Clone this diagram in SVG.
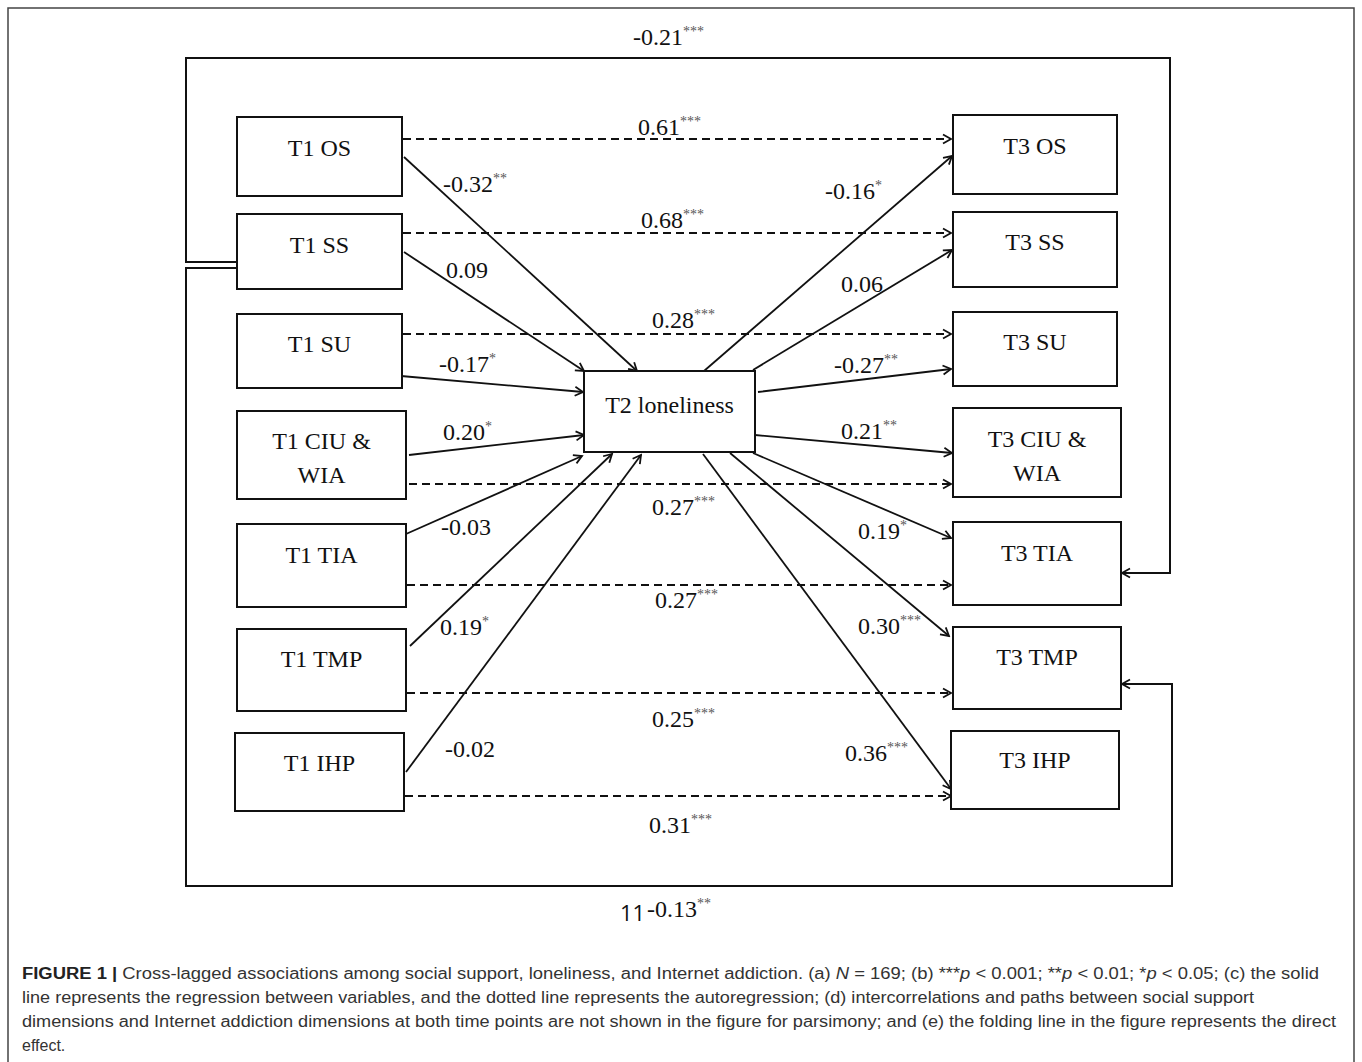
<svg xmlns="http://www.w3.org/2000/svg" width="1362" height="1062" viewBox="0 0 1362 1062">
<style>
.bg{fill:#fff}
.frame{fill:none;stroke:#444;stroke-width:1.5}
.box{fill:#fff;stroke:#111;stroke-width:2}
.bt{font-family:"Liberation Serif","Times New Roman",serif;font-size:24px;fill:#111;text-anchor:middle}
.lb{font-family:"Liberation Serif","Times New Roman",serif;font-size:24px;fill:#111}
.sup{font-size:14px;fill:#555}
.solid{fill:none;stroke:#111;stroke-width:1.8}
.dash{fill:none;stroke:#111;stroke-width:2.2;stroke-dasharray:8 5}
.fold{fill:none;stroke:#111;stroke-width:2}
.cap{font-family:"Liberation Sans",Arial,sans-serif;font-size:16px;fill:#333}
.capb{font-weight:bold;fill:#222}
.eleven{font-family:"Open Sans","DejaVu Sans",sans-serif;font-size:22px;fill:#111}
</style>
<defs>
<marker id="ah" viewBox="-10 -6 12 12" refX="0" refY="0" markerWidth="12" markerHeight="12" markerUnits="userSpaceOnUse" orient="auto">
<path d="M-8,-4.5 L0,0 L-8,4.5" fill="none" stroke="#111" stroke-width="1.8"/>
</marker>
</defs>
<rect class="bg" x="0" y="0" width="1362" height="1062"/>
<path class="frame" d="M8,1062 V8 H1354 V1062"/>

<g id="connectors">
<path class="fold" d="M236,262 H186 V58 H1170 V573 H1122" marker-end="url(#ah)"/>
<path class="fold" d="M236,268 H186 V886 H1172 V684 H1122" marker-end="url(#ah)"/>
<line class="dash" x1="403" y1="139" x2="951" y2="139" marker-end="url(#ah)"/>
<line class="dash" x1="403" y1="233" x2="951" y2="233" marker-end="url(#ah)"/>
<line class="dash" x1="403" y1="334" x2="951" y2="334" marker-end="url(#ah)"/>
<line class="dash" x1="409" y1="484" x2="951" y2="484" marker-end="url(#ah)"/>
<line class="dash" x1="407" y1="585" x2="951" y2="585" marker-end="url(#ah)"/>
<line class="dash" x1="407" y1="693" x2="951" y2="693" marker-end="url(#ah)"/>
<line class="dash" x1="405" y1="796" x2="951" y2="796" marker-end="url(#ah)"/>
<line class="solid" x1="404" y1="157" x2="637" y2="371" marker-end="url(#ah)"/>
<line class="solid" x1="404" y1="252" x2="584" y2="371" marker-end="url(#ah)"/>
<line class="solid" x1="401" y1="376" x2="583" y2="392" marker-end="url(#ah)"/>
<line class="solid" x1="409" y1="455" x2="584" y2="435" marker-end="url(#ah)"/>
<line class="solid" x1="406" y1="534" x2="582" y2="456" marker-end="url(#ah)"/>
<line class="solid" x1="410" y1="646" x2="612" y2="454" marker-end="url(#ah)"/>
<line class="solid" x1="406" y1="772" x2="641" y2="455" marker-end="url(#ah)"/>
<line class="solid" x1="704" y1="371" x2="952" y2="156" marker-end="url(#ah)"/>
<line class="solid" x1="753" y1="370" x2="952" y2="250" marker-end="url(#ah)"/>
<line class="solid" x1="758" y1="392" x2="951" y2="369" marker-end="url(#ah)"/>
<line class="solid" x1="755" y1="435" x2="952" y2="453" marker-end="url(#ah)"/>
<line class="solid" x1="753" y1="453" x2="951" y2="538" marker-end="url(#ah)"/>
<line class="solid" x1="730" y1="453" x2="949" y2="636" marker-end="url(#ah)"/>
<line class="solid" x1="703" y1="454" x2="951" y2="789" marker-end="url(#ah)"/>
</g>

<g id="labels">
<text class="lb" x="633" y="45">-0.21<tspan class="sup" dy="-9">***</tspan></text>
<text class="lb" x="638" y="135">0.61<tspan class="sup" dy="-9">***</tspan></text>
<text class="lb" x="641" y="228">0.68<tspan class="sup" dy="-9">***</tspan></text>
<text class="lb" x="652" y="328">0.28<tspan class="sup" dy="-9">***</tspan></text>
<text class="lb" x="652" y="515">0.27<tspan class="sup" dy="-9">***</tspan></text>
<text class="lb" x="655" y="608">0.27<tspan class="sup" dy="-9">***</tspan></text>
<text class="lb" x="652" y="727">0.25<tspan class="sup" dy="-9">***</tspan></text>
<text class="lb" x="649" y="833">0.31<tspan class="sup" dy="-9">***</tspan></text>
<text class="lb" x="443" y="192">-0.32<tspan class="sup" dy="-9">**</tspan></text>
<text class="lb" x="446" y="278">0.09</text>
<text class="lb" x="439" y="372">-0.17<tspan class="sup" dy="-9">*</tspan></text>
<text class="lb" x="443" y="440">0.20<tspan class="sup" dy="-9">*</tspan></text>
<text class="lb" x="441" y="535">-0.03</text>
<text class="lb" x="440" y="635">0.19<tspan class="sup" dy="-9">*</tspan></text>
<text class="lb" x="445" y="757">-0.02</text>
<text class="lb" x="825" y="199">-0.16<tspan class="sup" dy="-9">*</tspan></text>
<text class="lb" x="841" y="292">0.06</text>
<text class="lb" x="834" y="373">-0.27<tspan class="sup" dy="-9">**</tspan></text>
<text class="lb" x="841" y="439">0.21<tspan class="sup" dy="-9">**</tspan></text>
<text class="lb" x="858" y="539">0.19<tspan class="sup" dy="-9">*</tspan></text>
<text class="lb" x="858" y="634">0.30<tspan class="sup" dy="-9">***</tspan></text>
<text class="lb" x="845" y="761">0.36<tspan class="sup" dy="-9">***</tspan></text>
<text class="eleven" x="620" y="921">11</text>
<text class="lb" x="647" y="917">-0.13<tspan class="sup" dy="-9">**</tspan></text>
</g>

<g id="t1os"><rect class="box" x="237" y="117" width="165" height="79"/><text class="bt" x="319.5" y="156">T1 OS</text></g>
<g id="t1ss"><rect class="box" x="237" y="214" width="165" height="75"/><text class="bt" x="319.5" y="253">T1 SS</text></g>
<g id="t1su"><rect class="box" x="237" y="314" width="165" height="74"/><text class="bt" x="319.5" y="352">T1 SU</text></g>
<g id="t1ciu"><rect class="box" x="237" y="411" width="169" height="88"/><text class="bt" x="321.5" y="449">T1 CIU &amp;</text><text class="bt" x="321.5" y="483">WIA</text></g>
<g id="t1tia"><rect class="box" x="237" y="524" width="169" height="83"/><text class="bt" x="321.5" y="563">T1 TIA</text></g>
<g id="t1tmp"><rect class="box" x="237" y="629" width="169" height="82"/><text class="bt" x="321.5" y="667">T1 TMP</text></g>
<g id="t1ihp"><rect class="box" x="235" y="733" width="169" height="78"/><text class="bt" x="319.5" y="771">T1 IHP</text></g>

<g id="t2lon"><rect class="box" x="584" y="371" width="171" height="81"/><text class="bt" x="669.5" y="413">T2 loneliness</text></g>

<g id="t3os"><rect class="box" x="953" y="115" width="164" height="79"/><text class="bt" x="1035" y="154">T3 OS</text></g>
<g id="t3ss"><rect class="box" x="953" y="212" width="164" height="75"/><text class="bt" x="1035" y="250">T3 SS</text></g>
<g id="t3su"><rect class="box" x="953" y="312" width="164" height="74"/><text class="bt" x="1035" y="350">T3 SU</text></g>
<g id="t3ciu"><rect class="box" x="953" y="408" width="168" height="89"/><text class="bt" x="1037" y="447">T3 CIU &amp;</text><text class="bt" x="1037" y="481">WIA</text></g>
<g id="t3tia"><rect class="box" x="953" y="522" width="168" height="83"/><text class="bt" x="1037" y="561">T3 TIA</text></g>
<g id="t3tmp"><rect class="box" x="953" y="627" width="168" height="82"/><text class="bt" x="1037" y="665">T3 TMP</text></g>
<g id="t3ihp"><rect class="box" x="951" y="731" width="168" height="78"/><text class="bt" x="1035" y="768">T3 IHP</text></g>

<g id="caption">
<text class="cap" x="22" y="979" textLength="1297" lengthAdjust="spacingAndGlyphs"><tspan class="capb">FIGURE 1 |</tspan> Cross-lagged associations among social support, loneliness, and Internet addiction. (a) <tspan font-style="italic">N</tspan> = 169; (b) ***<tspan font-style="italic">p</tspan> &lt; 0.001; **<tspan font-style="italic">p</tspan> &lt; 0.01; *<tspan font-style="italic">p</tspan> &lt; 0.05; (c) the solid</text>
<text class="cap" x="22" y="1003" textLength="1232" lengthAdjust="spacingAndGlyphs">line represents the regression between variables, and the dotted line represents the autoregression; (d) intercorrelations and paths between social support</text>
<text class="cap" x="22" y="1027" textLength="1314" lengthAdjust="spacingAndGlyphs">dimensions and Internet addiction dimensions at both time points are not shown in the figure for parsimony; and (e) the folding line in the figure represents the direct</text>
<text class="cap" x="22" y="1051">effect.</text>
</g>
</svg>
